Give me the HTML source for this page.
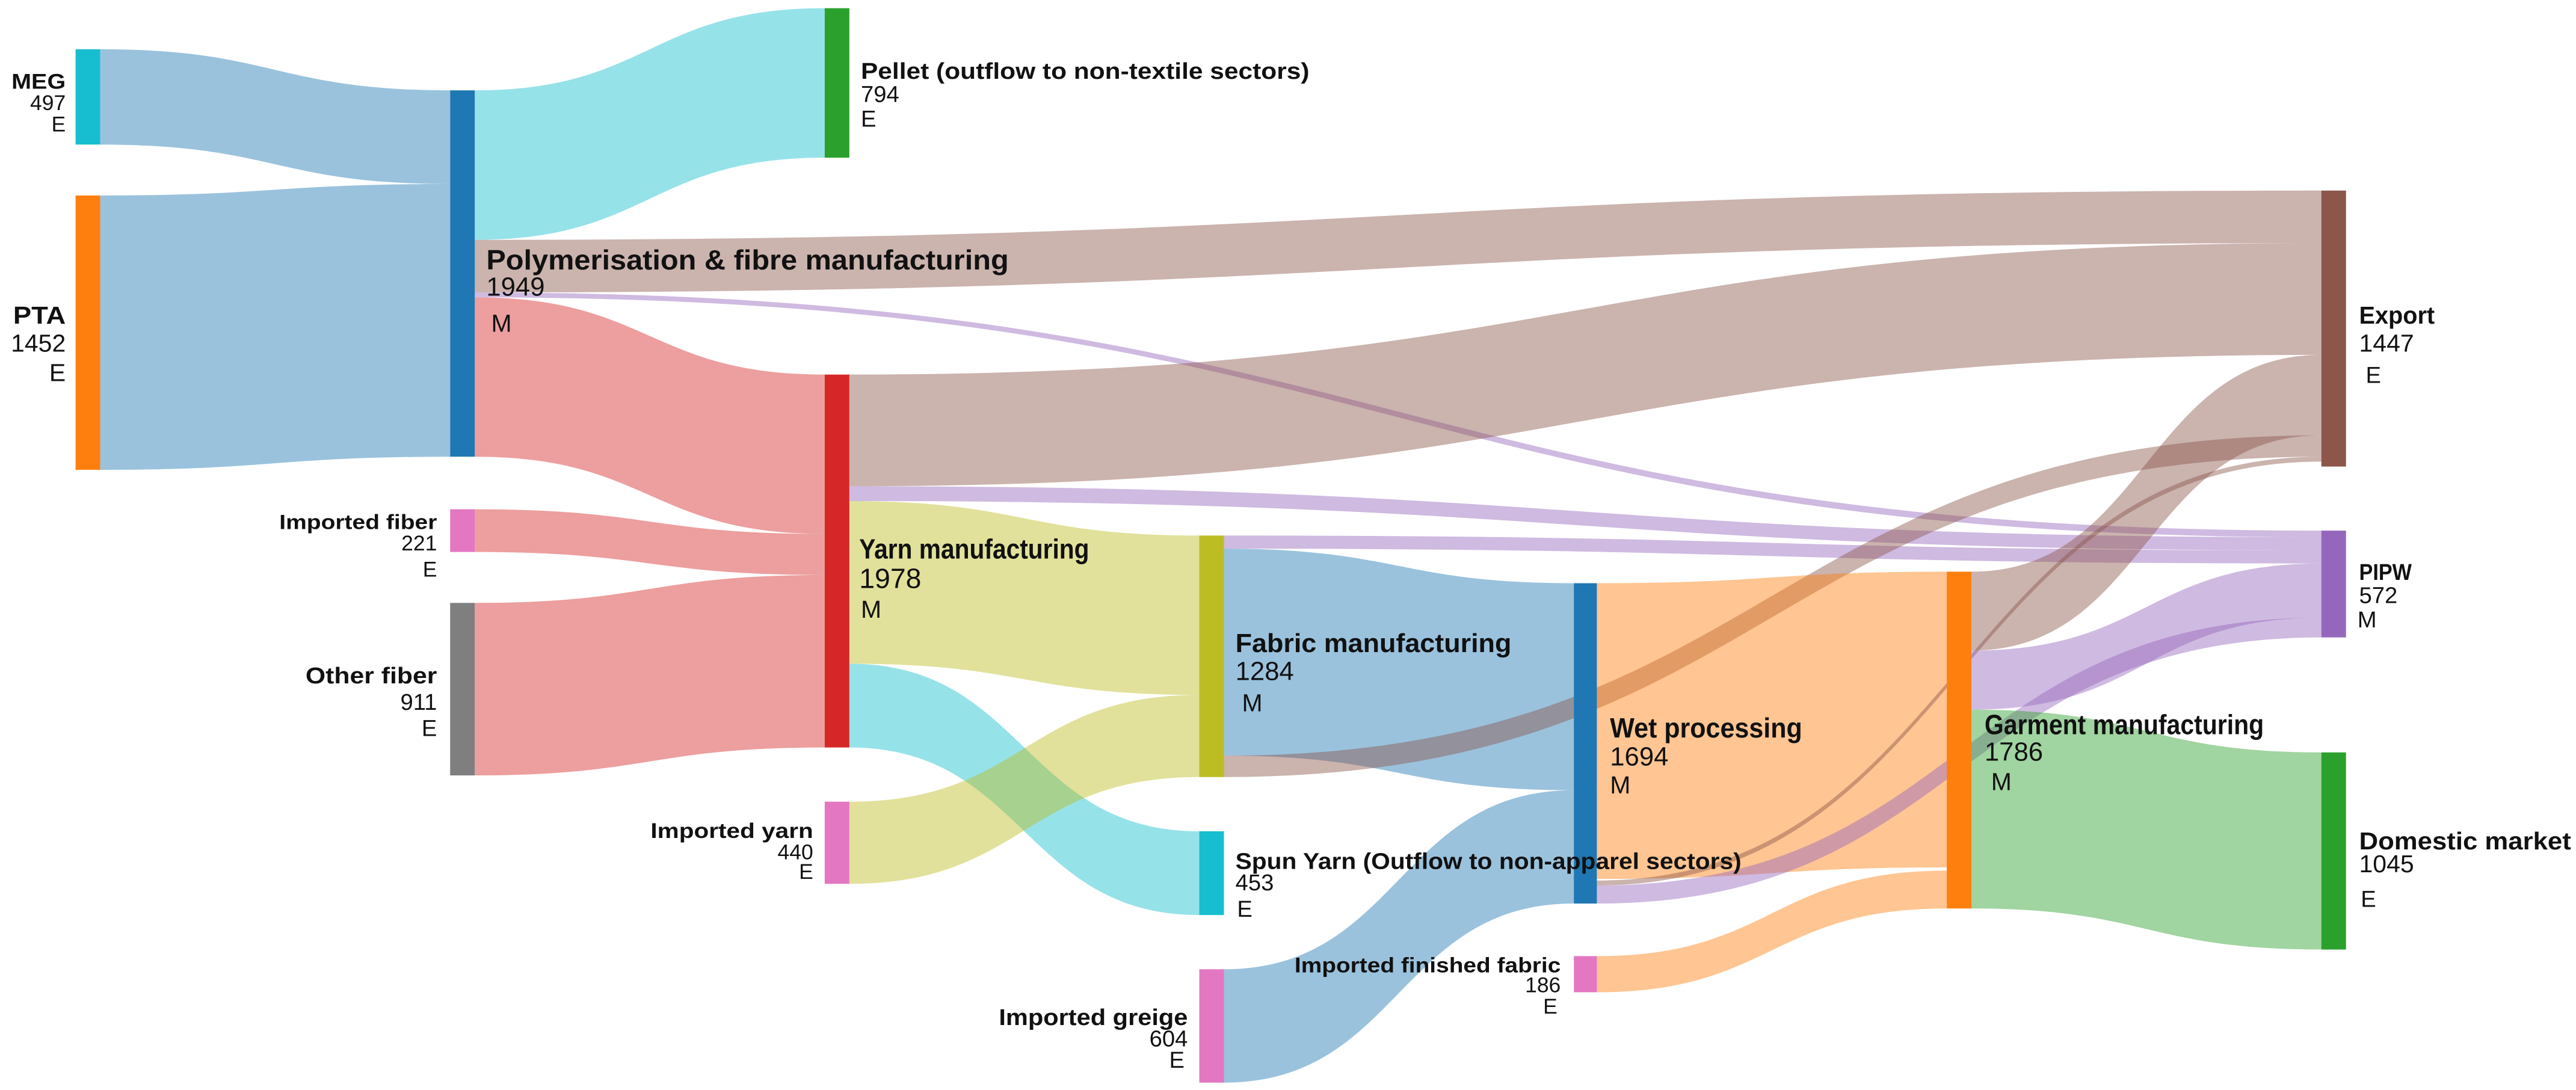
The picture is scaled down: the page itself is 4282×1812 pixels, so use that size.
<!DOCTYPE html>
<html><head><meta charset="utf-8"><style>
html,body{margin:0;padding:0;background:#fff;}
svg{display:block;}
text{font-family:"Liberation Sans Narrow","Liberation Sans",sans-serif;fill:#111;}
.b{font-weight:bold;}
</style></head><body>
<svg width="4282" height="1812" viewBox="0 0 1568 663.5" preserveAspectRatio="none" xmlns="http://www.w3.org/2000/svg">
<rect width="1568" height="663.5" fill="#fff"/>
<g fill-opacity="0.45">
<path fill="#1f77b4" d="M61 30 C167.5 30 167.5 55 274 55 L274 112 C167.5 112 167.5 88 61 88 Z"/>
<path fill="#1f77b4" d="M61 119 C167.5 119 167.5 112 274 112 L274 278 C167.5 278 167.5 286 61 286 Z"/>
<path fill="#17becf" d="M289 55 C395.5 55 395.5 5 502 5 L502 96 C395.5 96 395.5 146 289 146 Z"/>
<path fill="#8c564b" d="M289 146 C851 146 851 116 1413 116 L1413 148 C851 148 851 178 289 178 Z"/>
<path fill="#9467bd" d="M289 178 C851 178 851 323 1413 323 L1413 327 C851 327 851 181 289 181 Z"/>
<path fill="#d62728" d="M289 181 C395.5 181 395.5 228 502 228 L502 325 C395.5 325 395.5 278 289 278 Z"/>
<path fill="#d62728" d="M289 310 C395.5 310 395.5 325 502 325 L502 350 C395.5 350 395.5 336 289 336 Z"/>
<path fill="#d62728" d="M289 367 C395.5 367 395.5 350 502 350 L502 455 C395.5 455 395.5 472 289 472 Z"/>
<path fill="#8c564b" d="M517 228 C965 228 965 148 1413 148 L1413 216 C965 216 965 296 517 296 Z"/>
<path fill="#9467bd" d="M517 296 C965 296 965 327 1413 327 L1413 335 C965 335 965 305 517 305 Z"/>
<path fill="#bcbd22" d="M517 305 C623.5 305 623.5 326 730 326 L730 423 C623.5 423 623.5 404 517 404 Z"/>
<path fill="#17becf" d="M517 404 C623.5 404 623.5 506 730 506 L730 557 C623.5 557 623.5 455 517 455 Z"/>
<path fill="#bcbd22" d="M517 488 C623.5 488 623.5 423 730 423 L730 473 C623.5 473 623.5 538 517 538 Z"/>
<path fill="#9467bd" d="M745 326 C1079 326 1079 335 1413 335 L1413 343 C1079 343 1079 334 745 334 Z"/>
<path fill="#1f77b4" d="M745 334 C851.5 334 851.5 355 958 355 L958 481 C851.5 481 851.5 460 745 460 Z"/>
<path fill="#8c564b" d="M745 460 C1079 460 1079 265 1413 265 L1413 278 C1079 278 1079 473 745 473 Z"/>
<path fill="#1f77b4" d="M745 590 C851.5 590 851.5 481 958 481 L958 550 C851.5 550 851.5 659 745 659 Z"/>
<path fill="#ff7f0e" d="M972 355 C1078.5 355 1078.5 348 1185 348 L1185 528 C1078.5 528 1078.5 535 972 535 Z"/>
<path fill="#8c564b" d="M972 536 C1192.5 536 1192.5 278 1413 278 L1413 281 C1192.5 281 1192.5 539 972 539 Z"/>
<path fill="#9467bd" d="M972 539 C1192.5 539 1192.5 376 1413 376 L1413 388 C1192.5 388 1192.5 550 972 550 Z"/>
<path fill="#ff7f0e" d="M972 582 C1078.5 582 1078.5 530 1185 530 L1185 553 C1078.5 553 1078.5 604 972 604 Z"/>
<path fill="#8c564b" d="M1200 348 C1306.5 348 1306.5 216 1413 216 L1413 265 C1306.5 265 1306.5 396 1200 396 Z"/>
<path fill="#9467bd" d="M1200 396 C1306.5 396 1306.5 343 1413 343 L1413 376 C1306.5 376 1306.5 432 1200 432 Z"/>
<path fill="#2ca02c" d="M1200 432 C1306.5 432 1306.5 458 1413 458 L1413 578 C1306.5 578 1306.5 553 1200 553 Z"/>
</g>
<g>
<rect x="46" y="30" width="15" height="58" fill="#17becf"/>
<rect x="46" y="119" width="15" height="167" fill="#ff7f0e"/>
<rect x="274" y="55" width="15" height="223" fill="#1f77b4"/>
<rect x="274" y="310" width="15" height="26" fill="#e377c2"/>
<rect x="274" y="367" width="15" height="105" fill="#7f7f7f"/>
<rect x="502" y="5" width="15" height="91" fill="#2ca02c"/>
<rect x="502" y="228" width="15" height="227" fill="#d62728"/>
<rect x="502" y="488" width="15" height="50" fill="#e377c2"/>
<rect x="730" y="326" width="15" height="147" fill="#bcbd22"/>
<rect x="730" y="506" width="15" height="51" fill="#17becf"/>
<rect x="730" y="590" width="15" height="69" fill="#e377c2"/>
<rect x="958" y="355" width="14" height="195" fill="#1f77b4"/>
<rect x="958" y="582" width="14" height="22" fill="#e377c2"/>
<rect x="1185" y="348" width="15" height="205" fill="#ff7f0e"/>
<rect x="1413" y="116" width="15" height="168" fill="#8c564b"/>
<rect x="1413" y="323" width="15" height="65" fill="#9467bd"/>
<rect x="1413" y="458" width="15" height="120" fill="#2ca02c"/>
</g>
<g font-size="13">
<text class="b" x="40" y="54" text-anchor="end" textLength="33" lengthAdjust="spacingAndGlyphs">MEG</text>
<text x="40" y="67" text-anchor="end">497</text><text x="40" y="80" text-anchor="end">E</text>

<text class="b" x="40" y="197" text-anchor="end" font-size="15" textLength="32" lengthAdjust="spacingAndGlyphs">PTA</text>
<text x="40" y="214" text-anchor="end" font-size="15">1452</text><text x="40" y="232" text-anchor="end" font-size="15">E</text>

<text class="b" x="296" y="164" font-size="17" textLength="318" lengthAdjust="spacingAndGlyphs">Polymerisation &amp; fibre manufacturing</text>
<text x="296" y="180" font-size="16">1949</text><text x="299" y="202" font-size="15">M</text>

<text class="b" x="524" y="48" font-size="14" textLength="273" lengthAdjust="spacingAndGlyphs">Pellet (outflow to non-textile sectors)</text>
<text x="524" y="62" font-size="14">794</text><text x="524" y="77" font-size="14">E</text>

<text class="b" x="266" y="322" text-anchor="end" font-size="12.5" textLength="96" lengthAdjust="spacingAndGlyphs">Imported fiber</text>
<text x="266" y="335" text-anchor="end" font-size="13">221</text><text x="266" y="351" text-anchor="end" font-size="13">E</text>

<text class="b" x="266" y="416" text-anchor="end" font-size="14" textLength="80" lengthAdjust="spacingAndGlyphs">Other fiber</text>
<text x="266" y="432" text-anchor="end" font-size="14">911</text><text x="266" y="448" text-anchor="end" font-size="14">E</text>

<text class="b" x="523" y="340" font-size="17" textLength="140" lengthAdjust="spacingAndGlyphs">Yarn manufacturing</text>
<text x="523" y="358" font-size="17">1978</text><text x="524" y="376" font-size="15">M</text>

<text class="b" x="495" y="510" text-anchor="end" font-size="13" textLength="99" lengthAdjust="spacingAndGlyphs">Imported yarn</text>
<text x="495" y="523" text-anchor="end" font-size="13">440</text><text x="495" y="535" text-anchor="end" font-size="13">E</text>

<text class="b" x="752" y="397" font-size="16" textLength="168" lengthAdjust="spacingAndGlyphs">Fabric manufacturing</text>
<text x="752" y="414" font-size="16">1284</text><text x="756" y="433" font-size="15">M</text>

<text class="b" x="752" y="529" font-size="14" textLength="308" lengthAdjust="spacingAndGlyphs">Spun Yarn (Outflow to non-apparel sectors)</text>
<text x="752" y="542" font-size="14">453</text><text x="753" y="558" font-size="14">E</text>

<text class="b" x="723" y="624" text-anchor="end" font-size="14" textLength="115" lengthAdjust="spacingAndGlyphs">Imported greige</text>
<text x="723" y="637" text-anchor="end" font-size="14">604</text><text x="721" y="650" text-anchor="end" font-size="14">E</text>

<text class="b" x="980" y="449" font-size="17" textLength="117" lengthAdjust="spacingAndGlyphs">Wet processing</text>
<text x="980" y="466" font-size="16">1694</text><text x="980" y="483" font-size="15">M</text>

<text class="b" x="950" y="592" text-anchor="end" font-size="13" textLength="162" lengthAdjust="spacingAndGlyphs">Imported finished fabric</text>
<text x="950" y="604" text-anchor="end" font-size="13">186</text><text x="948" y="617" text-anchor="end" font-size="13">E</text>

<text class="b" x="1208" y="447" font-size="17" textLength="170" lengthAdjust="spacingAndGlyphs">Garment manufacturing</text>
<text x="1208" y="463" font-size="16">1786</text><text x="1212" y="481" font-size="15">M</text>

<text class="b" x="1436" y="197" font-size="15" textLength="46" lengthAdjust="spacingAndGlyphs">Export</text>
<text x="1436" y="214" font-size="15">1447</text><text x="1440" y="233" font-size="14">E</text>

<text class="b" x="1436" y="353" font-size="14" textLength="32" lengthAdjust="spacingAndGlyphs">PIPW</text>
<text x="1436" y="367" font-size="14">572</text><text x="1435" y="382" font-size="14">M</text>

<text class="b" x="1436" y="517" font-size="15" textLength="129" lengthAdjust="spacingAndGlyphs">Domestic market</text>
<text x="1436" y="531" font-size="15">1045</text><text x="1437" y="552" font-size="14">E</text>
</g>
</svg>
</body></html>
